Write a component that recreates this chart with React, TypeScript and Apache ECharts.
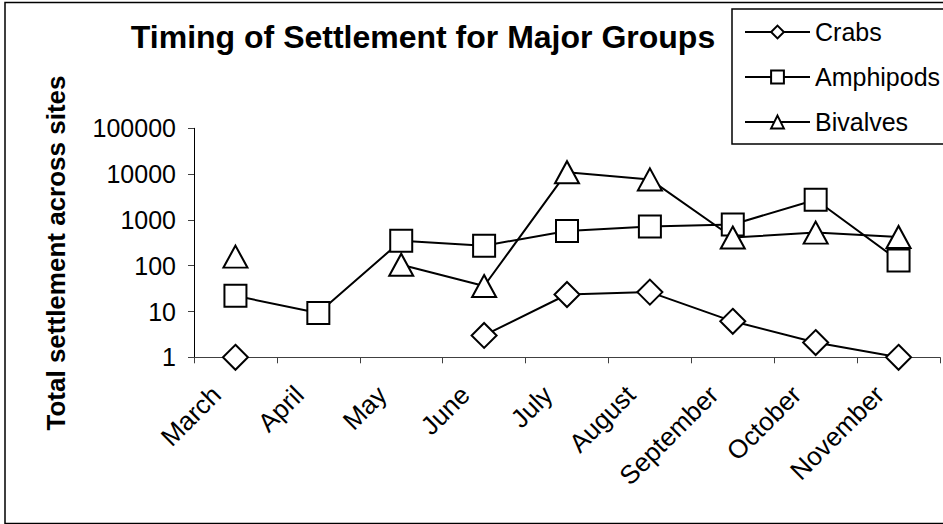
import React, { useEffect, useRef } from "react";
import * as echarts from "echarts";

const months = ["March", "April", "May", "June", "July", "August", "September", "October", "November"];
const crabs = [1, null, null, 3, 23.5, 26.5, 6.1, 2.1, 1];
const amphipods = [22, 9.3, 350, 274, 570, 715, 795, 2750, 130];
const bivalves = [158, null, 105, 36, 11000, 7650, 412, 528, 423];
const seriesNames = ["Crabs", "Amphipods", "Bivalves"];
const titleText = "Timing of Settlement for Major Groups";
const yTitle = "Total settlement across sites";

const FONT = "'Liberation Sans', Arial, sans-serif";

export default function App() {
  const ref = useRef<HTMLDivElement>(null);
  useEffect(() => {
    document.body.style.margin = "0";
    const chart = echarts.init(ref.current!, null, { renderer: "svg" });
    const common = {
      type: "line",
      connectNulls: false,
      lineStyle: { color: "#000", width: 2 },
      itemStyle: { color: "#fff", borderColor: "#000", borderWidth: 2 },
      emphasis: { disabled: true },
    };
    chart.setOption({
      animation: false,
      backgroundColor: "#fff",
      textStyle: { fontFamily: FONT },
      grid: { left: 194, top: 128.3, right: 3, bottom: 166.7, containLabel: false },
      legend: {
        orient: "vertical",
        left: 744,
        top: 19.5,
        padding: 0,
        itemWidth: 65,
        itemHeight: 16,
        itemGap: 20,
        data: seriesNames,
        textStyle: { fontSize: 25, color: "#000", fontFamily: FONT, lineHeight: 25 },
      },
      xAxis: {
        type: "category",
        data: months,
        boundaryGap: true,
        axisLine: { lineStyle: { color: "#404040", width: 1 } },
        axisTick: { show: true, length: 6, alignWithLabel: false, lineStyle: { color: "#404040" } },
        axisLabel: {
          rotate: 45,
          margin: 14,
          padding: [0, 27, 0, 0],
          fontSize: 26,
          color: "#000",
          fontFamily: FONT,
          interval: 0,
        },
        splitLine: { show: false },
      },
      yAxis: {
        type: "log",
        logBase: 10,
        min: 1,
        max: 100000,
        axisLine: { show: true, lineStyle: { color: "#000", width: 1 } },
        axisTick: { show: true, length: 6, lineStyle: { color: "#404040" } },
        axisLabel: {
          fontSize: 25,
          color: "#000",
          margin: 18,
          fontFamily: FONT,
          formatter: (v: number) => String(Math.round(v)),
        },
        splitLine: { show: false },
        minorTick: { show: false },
      },
      graphic: [
        {
          type: "rect",
          shape: { x: 5, y: 2.5, width: 1000, height: 521 },
          style: { fill: "none", stroke: "#000", lineWidth: 1.5 },
          silent: true,
        },
        {
          type: "rect",
          shape: { x: 732, y: 9, width: 300, height: 135 },
          style: { fill: "none", stroke: "#000", lineWidth: 1.5 },
          silent: true,
        },
        {
          type: "text",
          x: 423,
          y: 37.2,
          style: {
            text: titleText,
            fontSize: 32,
            fontWeight: "bold",
            fontFamily: FONT,
            fill: "#000",
            align: "center",
            verticalAlign: "middle",
          },
        },
        {
          type: "text",
          x: 56,
          y: 253,
          rotation: Math.PI / 2,
          style: {
            text: yTitle,
            fontSize: 26,
            fontWeight: "bold",
            fontFamily: FONT,
            fill: "#000",
            align: "center",
            verticalAlign: "middle",
          },
        },
      ],
      series: [
        { ...common, name: seriesNames[0], data: crabs, symbol: "diamond", symbolSize: [25, 25] },
        { ...common, name: seriesNames[1], data: amphipods, symbol: "rect", symbolSize: [22, 22] },
        { ...common, name: seriesNames[2], data: bivalves, symbol: "triangle", symbolSize: [24, 22] },
      ],
    });
    return () => chart.dispose();
  }, []);
  return <div ref={ref} style={{ width: 943, height: 524 }} />;
}
